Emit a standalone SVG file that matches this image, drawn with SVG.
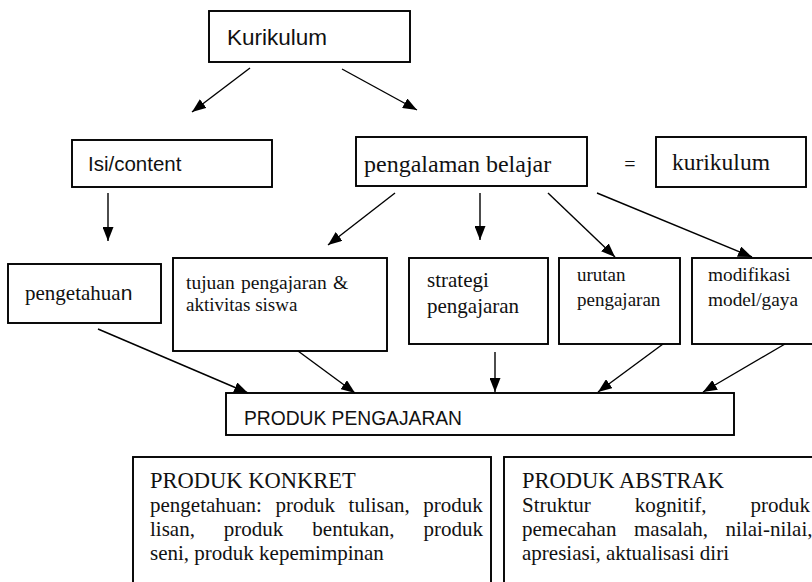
<svg xmlns="http://www.w3.org/2000/svg" width="812" height="582" viewBox="0 0 812 582">
  <defs>
    <marker id="arrow" markerUnits="userSpaceOnUse" markerWidth="15" markerHeight="11" refX="14" refY="5.5" orient="auto">
      <path d="M0,0 L14,5.5 L0,11 z" fill="#000"/>
    </marker>
    <style>
      .box { fill: #fff; stroke: #000; stroke-width: 1.9; }
      .sans { font-family: "Liberation Sans", Arial, sans-serif; fill: #111; }
      .serif { font-family: "Liberation Serif", "Times New Roman", serif; fill: #111; }
      .conn line { stroke: #000; stroke-width: 1.4; marker-end: url(#arrow); }
    </style>
  </defs>
  <rect width="812" height="582" fill="#fff"/>

  <g id="kurikulum-top">
    <rect class="box" x="209" y="11" width="201" height="51"/>
    <text class="sans" x="227" y="45" font-size="22.5">Kurikulum</text>
  </g>

  <g id="isi-content">
    <rect class="box" x="72" y="140" width="200" height="47"/>
    <text class="sans" x="88" y="171" font-size="20.5">Isi/content</text>
  </g>

  <g id="pengalaman-belajar">
    <rect class="box" x="356" y="137" width="231" height="49"/>
    <text class="serif" x="364" y="172" font-size="24">pengalaman belajar</text>
  </g>

  <g id="sama-dengan">
    <text class="serif" x="630" y="171" font-size="20" text-anchor="middle">=</text>
  </g>

  <g id="kurikulum-kanan">
    <rect class="box" x="656" y="137" width="150" height="50"/>
    <text class="serif" x="672" y="170" font-size="23.5">kurikulum</text>
  </g>

  <g id="pengetahuan">
    <rect class="box" x="8" y="264" width="153" height="59"/>
    <text class="serif" x="25" y="300" font-size="21">pengetahua<tspan class="sans" font-size="21">n</tspan></text>
  </g>

  <g id="tujuan">
    <rect class="box" x="173" y="258" width="214" height="93"/>
    <text class="serif" x="186" y="289" font-size="19.5" word-spacing="1.5">tujuan pengajaran &amp;</text>
    <text class="serif" x="186" y="311" font-size="19">aktivitas siswa</text>
  </g>

  <g id="strategi">
    <rect class="box" x="409" y="258" width="139" height="86"/>
    <text class="serif" x="427" y="287" font-size="21">strategi</text>
    <text class="serif" x="427" y="313" font-size="21">pengajaran</text>
  </g>

  <g id="urutan">
    <rect class="box" x="559" y="258" width="121" height="86"/>
    <text class="serif" x="577" y="281" font-size="19">urutan</text>
    <text class="serif" x="577" y="306" font-size="19">pengajaran</text>
  </g>

  <g id="modifikasi">
    <rect class="box" x="692" y="258" width="125" height="86"/>
    <text class="serif" x="708" y="281" font-size="19.3">modifikasi</text>
    <text class="serif" x="708" y="306" font-size="19.3">model/gaya</text>
  </g>

  <g id="produk-pengajaran">
    <rect class="box" x="226" y="393" width="508" height="42"/>
    <text class="sans" x="244" y="425" font-size="20" textLength="218" lengthAdjust="spacingAndGlyphs">PRODUK PENGAJARAN</text>
  </g>

  <!-- justified paragraphs: word-spacing fills each line to the box width -->
  <g id="produk-konkret">
    <rect class="box" x="133" y="457" width="358" height="140"/>
    <text class="serif" x="150" y="488" font-size="22.5">PRODUK KONKRET</text>
    <text class="serif" x="150" y="512" font-size="21" word-spacing="8.3">pengetahuan: produk tulisan, produk</text>
    <text class="serif" x="150" y="536" font-size="21" word-spacing="23.7">lisan, produk bentukan, produk</text>
    <text class="serif" x="150" y="560" font-size="21">seni, produk kepemimpinan</text>
  </g>

  <g id="produk-abstrak">
    <rect class="box" x="504" y="457" width="320" height="140"/>
    <text class="serif" x="522" y="488" font-size="22.5">PRODUK ABSTRAK</text>
    <text class="serif" x="522" y="512" font-size="21" word-spacing="38.7">Struktur kognitif, produk</text>
    <text class="serif" x="522" y="536" font-size="21" word-spacing="12.3">pemecahan masalah, nilai-nilai,</text>
    <text class="serif" x="522" y="560" font-size="21">apresiasi, aktualisasi diri</text>
  </g>

  <g id="connectors" class="conn">
    <line x1="250" y1="68" x2="192" y2="112"/>
    <line x1="342" y1="69" x2="417" y2="110"/>
    <line x1="108" y1="193" x2="108" y2="241"/>
    <line x1="395" y1="193" x2="328" y2="245"/>
    <line x1="480" y1="193" x2="480" y2="240"/>
    <line x1="548" y1="193" x2="615" y2="257"/>
    <line x1="597" y1="193" x2="752" y2="257"/>
    <line x1="98" y1="329" x2="248" y2="393"/>
    <line x1="298" y1="351" x2="355" y2="393"/>
    <line x1="495" y1="352" x2="495" y2="392"/>
    <line x1="663" y1="344" x2="598" y2="392"/>
    <line x1="785" y1="344" x2="703" y2="392"/>
  </g>
</svg>
